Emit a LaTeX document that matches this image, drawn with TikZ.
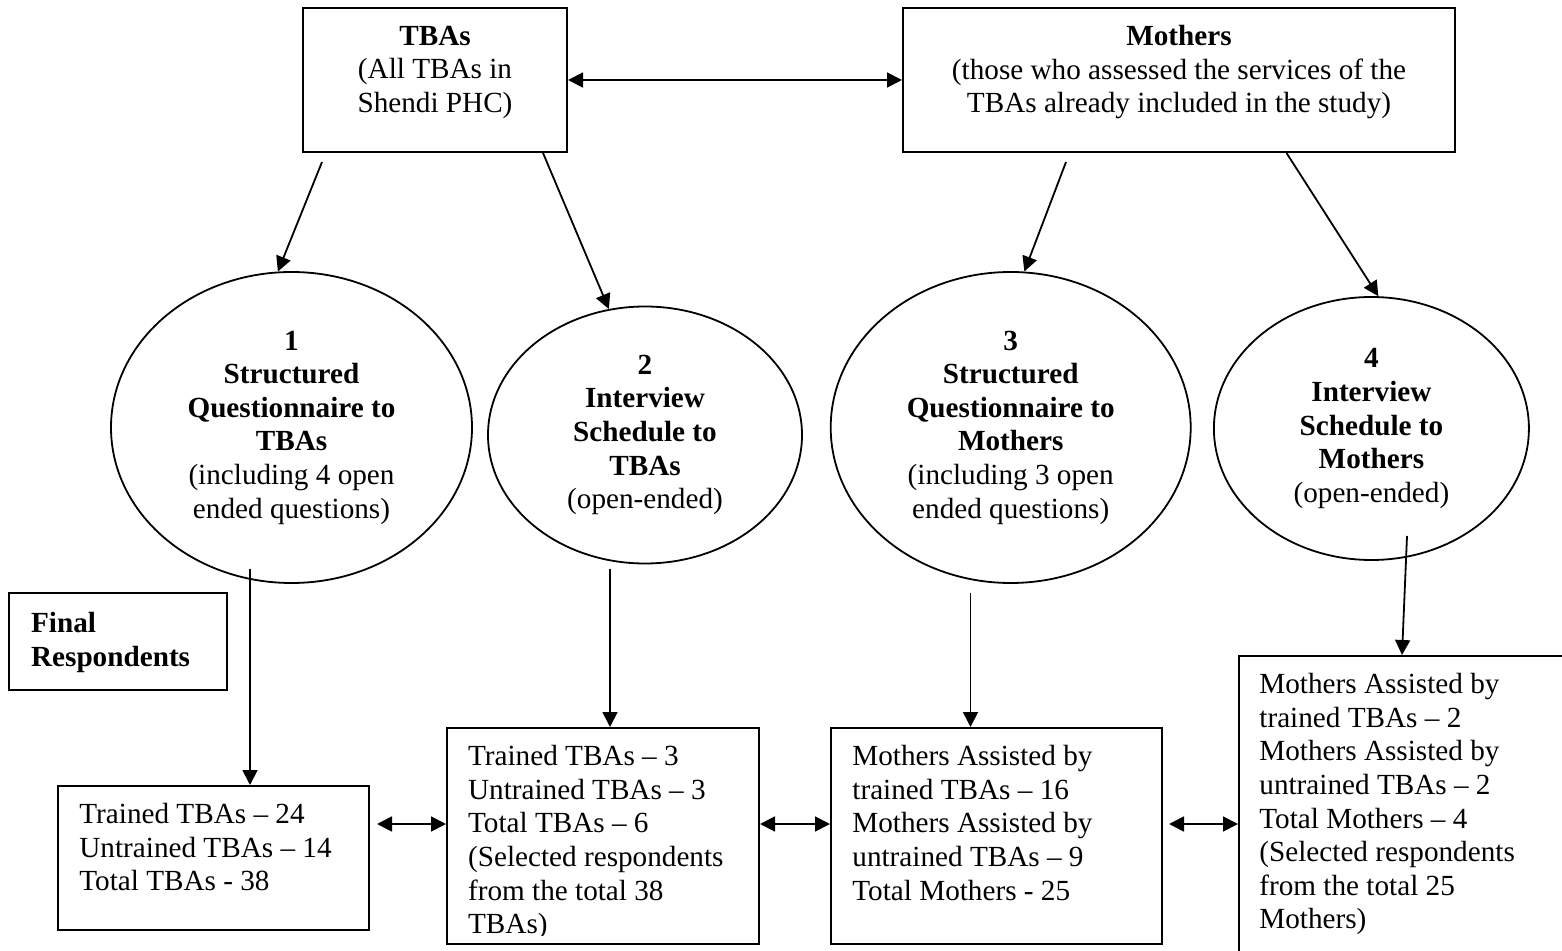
\documentclass[tikz,border=0pt]{standalone}
\usepackage{fontspec}
\setmainfont{Liberation Serif}
\usetikzlibrary{arrows.meta,shapes.geometric}

\begin{document}
\begin{tikzpicture}[x=0.5pt, y=-0.5pt, >={Triangle[length=7.5pt, width=7.5pt]},
    font=\fontsize{14.6pt}{16.8pt}\selectfont,
    frame/.style={draw, line width=1pt, inner sep=0pt},
    stage/.style={draw, ellipse, line width=0.9pt, inner sep=0pt, align=center},
    lines/.style={inner sep=0pt, align=left, anchor=north west},
    link/.style={->, line width=0.9pt}]
    \useasboundingbox (0,0) rectangle (1562,951);
    \clip (0,0) rectangle (1562,951);

    % Study groups
    \node[frame, minimum width=132pt, minimum height=72pt] (tbas) at (435,80) {};
    \node[inner sep=0pt, align=center, anchor=north] (tbastxt) at (435,25.5)
        {\textbf{TBAs}\\(All TBAs in\\Shendi PHC)};
    \node[frame, minimum width=276pt, minimum height=72pt] (mothers) at (1179,80) {};
    \node[inner sep=0pt, align=center, anchor=north] (motherstxt) at (1179,25)
        {\textbf{Mothers}\\(those who assessed the services of the\\TBAs already included in the study)};
    \draw[<->, line width=0.9pt] (tbas.east) -- (mothers.west);

    % Instruments
    \node[stage, minimum width=180.5pt, minimum height=155.5pt] (q1) at (291.5,427.5)
        {\textbf{1}\\\textbf{Structured}\\\textbf{Questionnaire to}\\\textbf{TBAs}\\(including 4 open\\ended questions)};
    \node[stage, minimum width=157pt, minimum height=128.5pt] (q2) at (645,435)
        {\textbf{2}\\\textbf{Interview}\\\textbf{Schedule to}\\\textbf{TBAs}\\(open-ended)};
    \node[stage, minimum width=180pt, minimum height=155.5pt] (q3) at (1010.7,427.5)
        {\textbf{3}\\\textbf{Structured}\\\textbf{Questionnaire to}\\\textbf{Mothers}\\(including 3 open\\ended questions)};
    \node[stage, minimum width=157.5pt, minimum height=131.5pt] (q4) at (1371.4,428.5)
        {\textbf{4}\\\textbf{Interview}\\\textbf{Schedule to}\\\textbf{Mothers}\\(open-ended)};

    \coordinate (s1) at (322,162);
    \coordinate (s3) at (1066,162);
    \draw[link] (s1) -- (q1.95);
    \draw[link] ([xshift=54pt]tbas.south) -- (q2.106);
    \draw[link] (s3) -- (q3.85);
    \draw[link] ([xshift=53.75pt]mothers.south) -- (q4.87);

    % Final respondents
    \node[frame, minimum width=109pt, minimum height=48.5pt] (final) at (118,641.5) {};
    \node[lines] (finaltxt) at (30.7,612) {\textbf{Final}\\\textbf{Respondents}};

    \node[frame, minimum width=155.5pt, minimum height=72pt] (res1) at (213.5,858) {};
    \node[lines] (res1txt) at (79,803)
        {Trained TBAs -- 24\\Untrained TBAs -- 14\\Total TBAs - 38};
    \node[frame, minimum width=156pt, minimum height=108pt] (res2) at (603,836) {};
    \begin{scope}
        \clip (res2.north west) rectangle ([yshift=5pt]res2.south east);
        \node[lines] (res2txt) at (467.7,745)
            {Trained TBAs -- 3\\Untrained TBAs -- 3\\Total TBAs -- 6\\(Selected respondents\\from the total 38\\TBAs)};
    \end{scope}
    \node[frame, minimum width=165.5pt, minimum height=108pt] (res3) at (996.5,836) {};
    \node[lines] (res3txt) at (852,745)
        {Mothers Assisted by\\trained TBAs -- 16\\Mothers Assisted by\\untrained TBAs -- 9\\Total Mothers - 25};
    \node[frame, minimum width=168pt, minimum height=172pt] (res4) at (1407,828) {};
    \node[lines] (res4txt) at (1259,673)
        {Mothers Assisted by\\trained TBAs -- 2\\Mothers Assisted by\\untrained TBAs -- 2\\Total Mothers -- 4\\(Selected respondents\\from the total 25\\Mothers)};

    \coordinate (b1) at (250,569);
    \coordinate (b2) at (610,569);
    \coordinate (b3) at (970.5,593);
    \coordinate (b4) at (1407,536);
    \draw[link] (b1) -- (b1 |- res1.north);
    \draw[link] (b2) -- (b2 |- res2.north);
    \draw[link] (b3) -- (b3 |- res3.north);
    \draw[link] (b4) -- ([xshift=-2.5pt]res4.north);

    \coordinate (row) at (0,824);
    \draw[<->, line width=0.9pt, shorten <=3.5pt] (res1.east |- row) -- (res2.west |- row);
    \draw[<->, line width=0.9pt] (res2.east |- row) -- (res3.west |- row);
    \draw[<->, line width=0.9pt, shorten <=3pt] (res3.east |- row) -- (res4.west |- row);
\end{tikzpicture}
\end{document}
